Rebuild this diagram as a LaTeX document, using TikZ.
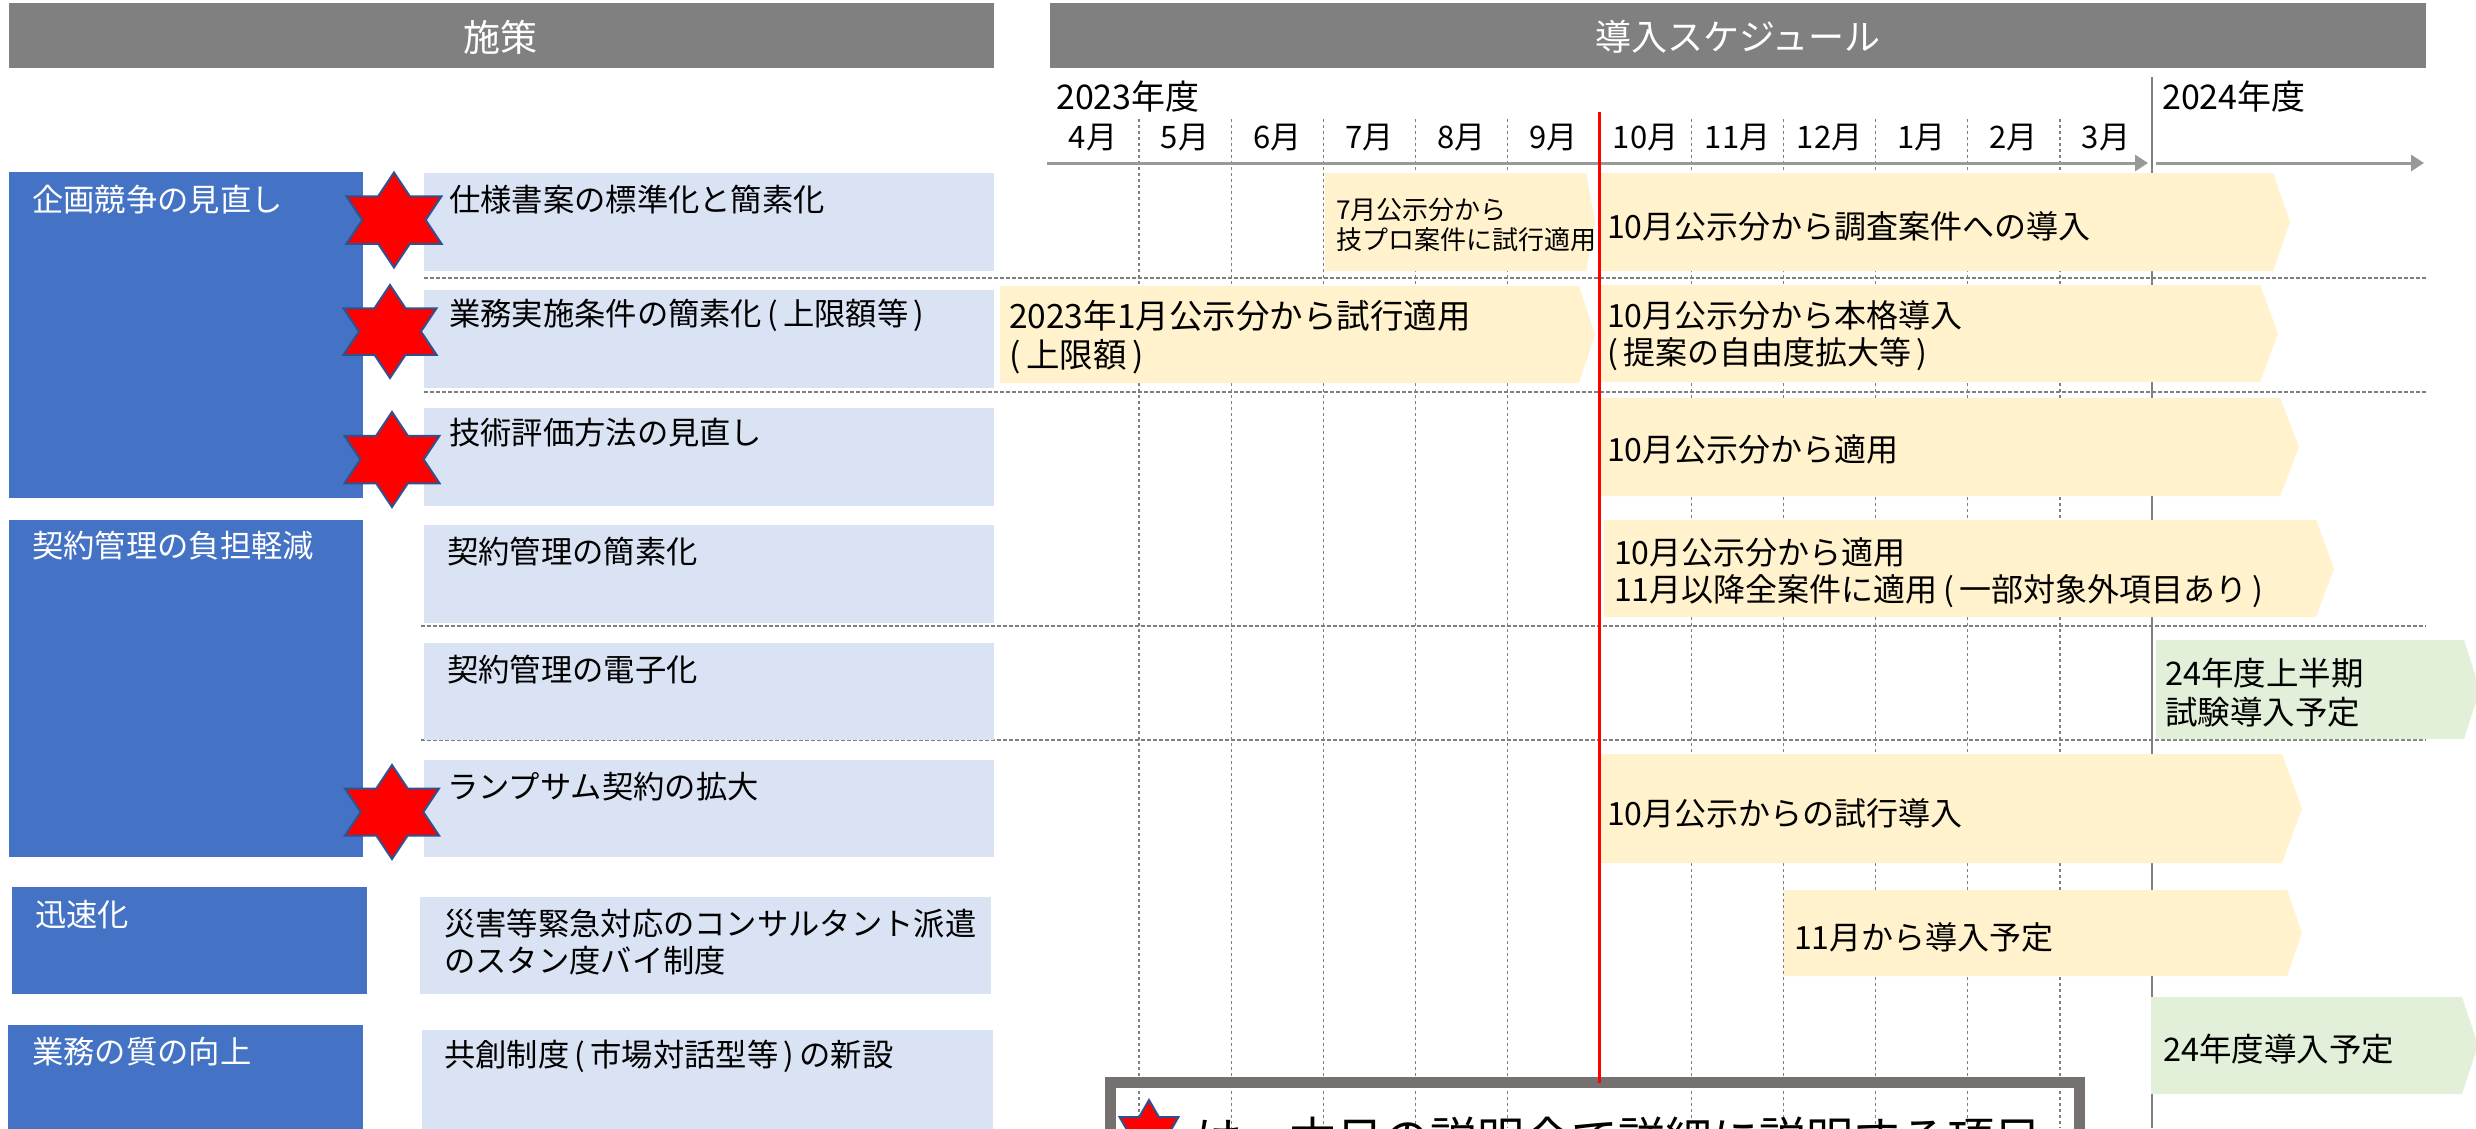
\documentclass[tikz,border=0pt]{standalone}
\usepackage{fontspec}
\setmainfont{Noto Sans CJK JP}
\usetikzlibrary{arrows.meta}
\definecolor{hdrgray}{HTML}{808080}
\definecolor{blu}{HTML}{4472C4}
\definecolor{lblu}{HTML}{DAE3F3}
\definecolor{ylw}{HTML}{FFF2CC}
\definecolor{grn}{HTML}{E2F0D9}
\definecolor{starline}{HTML}{2F528F}
\definecolor{gridgray}{HTML}{7F7F7F}
\definecolor{axisgray}{HTML}{999999}
\definecolor{legendgray}{HTML}{767171}
\newcommand\lpar{\kern0.17em(\kern0.17em}
\newcommand\rpar{\kern0.17em)\kern0.17em}
\newcommand\hexstar[4]{%
  \draw[hstarsty,shift={(#1,#2)},xscale=#4]
   (90:#3) -- (120:{#3*0.57735}) -- (150:#3) -- (180:{#3*0.57735}) --
   (210:#3) -- (240:{#3*0.57735}) -- (270:#3) -- (300:{#3*0.57735}) --
   (330:#3) -- (0:{#3*0.57735}) -- (30:#3) -- (60:{#3*0.57735}) -- cycle;}
\newcommand\chev[6]{%
  \fill[#6] (#1,#2) -- (#3,#2) -- (#4,{(#2+#5)/2}) -- (#3,#5) -- (#1,#5) -- cycle;}
\begin{document}
\begin{tikzpicture}[x=1pt,y=-1pt,
  txt/.style={anchor=west,inner sep=0pt,align=left,font=\fontsize{31.3}{37}\selectfont},
  stxt/.style={txt,font=\fontsize{32}{37}\selectfont},
  wtxt/.style={txt,text=white},
  hdrtxt/.style={inner sep=0pt,text=white,font=\fontsize{37}{44}\selectfont},
  vgrid/.style={gridgray,line width=1.3pt,dash pattern=on 3pt off 3pt},
  hsep/.style={gridgray,line width=2pt,dash pattern=on 4pt off 2pt},
  hstarsty/.style={fill=red,draw=starline,line width=2pt,line join=miter},
  axisarrow/.style={axisgray,line width=3pt,-{Triangle[length=13pt,width=16pt]}},
]
\useasboundingbox (0,0) rectangle (2476,1128);
\clip (0,0) rectangle (2476,1128);
\fill[white] (0,0) rectangle (2476,1128);

% headers
\fill[hdrgray] (9,3) rectangle (994,68);
\node[hdrtxt] (h1) at (500,37) {施策};
\fill[hdrgray] (1050,3) rectangle (2426,68);
\node[hdrtxt,font=\fontsize{36}{42}\selectfont] (h2) at (1738,37) {導入スケジュール};

% year labels
\node[txt,font=\fontsize{34}{40}\selectfont] (y23) at (1056,97) {2023年度};
\node[txt,font=\fontsize{34}{40}\selectfont] (y24) at (2162,97) {2024年度};

% months
\foreach \m [count=\i from 0] in {4,5,6,7,8,9,10,11,12,1,2,3}
  \node[inner sep=0pt,font=\fontsize{31}{37}\selectfont] (m\i) at ({1093+92.08*\i},138) {\m 月};

% grid
\foreach \i in {1,2,3,4,5,7,8,9,10,11}
  \draw[vgrid] ({1047+92.08*\i},119) -- ({1047+92.08*\i},1128);
\draw[gridgray,line width=1.5pt] (2152,77) -- (2152,1128);

% axis
\draw[axisarrow] (1047,163) -- (2148,163);
\draw[axisarrow] (2156,163) -- (2424,163);

% separators
\draw[hsep] (424,278) -- (2426,278);
\draw[hsep] (424,392) -- (2426,392);
\draw[hsep] (421,626) -- (2426,626);
\draw[hsep] (421,740) -- (2426,740);

% blue category boxes
\fill[blu] (9,172) rectangle (363,498);
\node[wtxt] (c1) at (32,200) {企画競争の見直し};
\fill[blu] (9,520) rectangle (363,857);
\node[wtxt] (c2) at (32,546) {契約管理の負担軽減};
\fill[blu] (12,887) rectangle (367,994);
\node[wtxt] (c3) at (35,915) {迅速化};
\fill[blu] (8,1025) rectangle (363,1140);
\node[wtxt] (c4) at (32,1052) {業務の質の向上};

% light item boxes
\fill[lblu] (424,173) rectangle (994,271);
\node[txt] (i1) at (449,200) {仕様書案の標準化と簡素化};
\fill[lblu] (424,290) rectangle (994,388);
\node[txt] (i2) at (449,315) {業務実施条件の簡素化\lpar 上限額等\rpar};
\fill[lblu] (424,408) rectangle (994,506);
\node[txt] (i3) at (449,433) {技術評価方法の見直し};
\fill[lblu] (424,525) rectangle (994,623);
\node[txt] (i4) at (447,552) {契約管理の簡素化};
\fill[lblu] (424,643) rectangle (994,740);
\node[txt] (i5) at (447,670) {契約管理の電子化};
\fill[lblu] (424,760) rectangle (994,857);
\node[txt] (i6) at (447,787) {ランプサム契約の拡大};
\fill[lblu] (420,897) rectangle (991,994);
\node[txt] (i7) at (444,942.5) {災害等緊急対応のコンサルタント派遣\\のスタン度バイ制度};
\fill[lblu] (422,1030) rectangle (993,1140);
\node[txt] (i8) at (444,1056) {共創制度\lpar 市場対話型等\rpar の新設};

% stars
\hexstar{394}{220}{47.5}{1.155}
\hexstar{390}{331.5}{46.5}{1.155}
\hexstar{392}{459.5}{47.5}{1.155}
\hexstar{392}{812}{47}{1.155}

% schedule arrows
\chev{1325}{173}{1586}{1595}{271}{ylw}
\node[txt,font=\fontsize{26}{30}\selectfont] (s1) at (1336,225) {7月公示分から\\技プロ案件に試行適用};
\chev{1599}{173}{2273}{2290}{271}{ylw}
\node[stxt] (s2) at (1607,226) {10月公示分から調査案件への導入};
\chev{1000}{286}{1579}{1595}{383}{ylw}
\node[txt,font=\fontsize{33.5}{39}\selectfont] (s3) at (1009,337.5) {2023年1月公示分から試行適用\\(\kern0.17em 上限額\rpar};
\chev{1599}{285}{2260}{2278}{382}{ylw}
\node[stxt] (s4) at (1607,336) {10月公示分から本格導入\\(\kern0.17em 提案の自由度拡大等\rpar};
\chev{1599}{398}{2280}{2299}{496}{ylw}
\node[stxt] (s5) at (1607,449) {10月公示分から適用};
\chev{1604}{520}{2316}{2334}{617}{ylw}
\node[stxt] (s6) at (1614,572.5) {10月公示分から適用\\11月以降全案件に適用\lpar 一部対象外項目あり\rpar};
\chev{2156}{640}{2464}{2480}{739}{grn}
\node[txt,font=\fontsize{32.5}{38.5}\selectfont] (s7) at (2165,692.5) {24年度上半期\\試験導入予定};
\chev{1599}{754}{2282}{2302}{863}{ylw}
\node[stxt] (s8) at (1607,813) {10月公示からの試行導入};
\chev{1784}{890}{2287}{2302}{976}{ylw}
\node[stxt] (s9) at (1794,937) {11月から導入予定};
\chev{2151}{997}{2462}{2478}{1094}{grn}
\node[txt,font=\fontsize{32.5}{38.5}\selectfont] (s10) at (2163,1049) {24年度導入予定};

% legend box
\draw[legendgray,line width=11pt] (1110.5,1082.5) rectangle (2079.5,1220);
\draw[red,line width=3pt] (1599,112) -- (1599,1083);
\hexstar{1149}{1134}{34}{1}
\node[anchor=base west,inner sep=0pt,font=\fontsize{47}{56}\selectfont] (leg) at (1195,1156) {は、本日の説明会で詳細に説明する項目};
\end{tikzpicture}
\end{document}
